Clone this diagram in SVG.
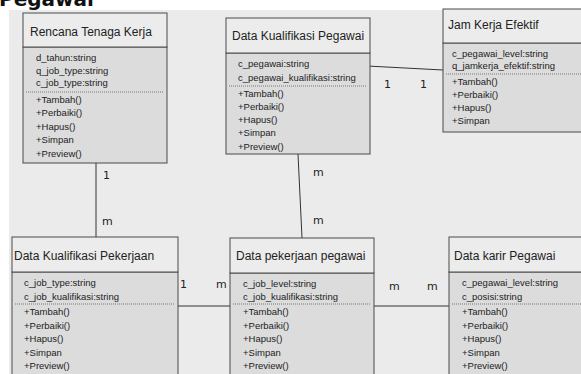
<svg xmlns="http://www.w3.org/2000/svg" width="581" height="374" viewBox="0 0 581 374">
<style>
.hd{fill:#ececec;stroke:#4a4a4a;stroke-width:1}
.bd{fill:#dcdcdc;stroke:#4a4a4a;stroke-width:1}
.sep{stroke:#777;stroke-width:1;stroke-dasharray:1,1}
.t{font-family:"Liberation Sans",Arial,sans-serif;fill:#222}
.h{font-size:12px}
.a{font-size:9.5px}
.c{stroke:#333;stroke-width:1;fill:none}
.lb{font-family:"DejaVu Sans",sans-serif;font-size:11px;fill:#222}
</style>
<rect x="0" y="0" width="581" height="374" fill="#ffffff"/>
<rect x="9" y="10" width="572" height="364" fill="#ebebeb"/>
<text x="-1" y="6" font-family="'DejaVu Sans',sans-serif" font-weight="bold" font-size="20" fill="#111">Pegawai</text>

<g id="connectors">
<line class="c" x1="96" y1="163" x2="96" y2="237"/>
<line class="c" x1="298" y1="154" x2="302" y2="238"/>
<line class="c" x1="367" y1="66" x2="443" y2="70"/>
<line class="c" x1="178" y1="306" x2="230" y2="306"/>
<line class="c" x1="374" y1="306" x2="449" y2="306"/>
<text class="lb" x="103" y="179">1</text>
<text class="lb" x="102" y="225">m</text>
<text class="lb" x="313" y="176">m</text>
<text class="lb" x="313" y="224">m</text>
<text class="lb" x="384" y="88">1</text>
<text class="lb" x="420" y="88">1</text>
<text class="lb" x="180" y="288">1</text>
<text class="lb" x="216" y="288">m</text>
<text class="lb" x="389" y="290">m</text>
<text class="lb" x="427" y="290">m</text>
</g>

<g id="rencana-tenaga-kerja">
<rect class="bd" x="23" y="47" width="144" height="116"/>
<rect class="hd" x="23" y="13" width="144" height="34"/>
<text class="t h" x="30" y="36">Rencana Tenaga Kerja</text>
<text class="t a" x="36" y="61">d_tahun:string</text>
<text class="t a" x="36" y="74">q_job_type:string</text>
<text class="t a" x="36" y="86">c_job_type:string</text>
<line class="sep" x1="26" y1="92" x2="164" y2="92"/>
<text class="t a" x="36" y="103">+Tambah()</text>
<text class="t a" x="36" y="116">+Perbaiki()</text>
<text class="t a" x="36" y="130">+Hapus()</text>
<text class="t a" x="36" y="143">+Simpan</text>
<text class="t a" x="36" y="157">+Preview()</text>
</g>

<g id="data-kualifikasi-pegawai">
<rect class="bd" x="226" y="53" width="144" height="101"/>
<rect class="hd" x="226" y="18" width="144" height="35"/>
<text class="t h" x="232" y="40">Data Kualifikasi Pegawai</text>
<text class="t a" x="238" y="67">c_pegawai:string</text>
<text class="t a" x="238" y="81">c_pegawai_kualifikasi:string</text>
<line class="sep" x1="229" y1="86" x2="367" y2="86"/>
<text class="t a" x="238" y="97">+Tambah()</text>
<text class="t a" x="238" y="110">+Perbaiki()</text>
<text class="t a" x="238" y="123">+Hapus()</text>
<text class="t a" x="238" y="136">+Simpan</text>
<text class="t a" x="238" y="150">+Preview()</text>
</g>

<g id="jam-kerja-efektif">
<rect class="bd" x="443" y="43" width="150" height="89"/>
<rect class="hd" x="443" y="9" width="150" height="34"/>
<text class="t h" x="448" y="29">Jam Kerja Efektif</text>
<text class="t a" x="452" y="57">c_pegawai_level:string</text>
<text class="t a" x="452" y="69">q_jamkerja_efektif:string</text>
<line class="sep" x1="446" y1="74" x2="581" y2="74"/>
<text class="t a" x="452" y="85">+Tambah()</text>
<text class="t a" x="452" y="98">+Perbaiki()</text>
<text class="t a" x="452" y="111">+Hapus()</text>
<text class="t a" x="452" y="124">+Simpan</text>
</g>

<g id="data-kualifikasi-pekerjaan">
<rect class="bd" x="12" y="272" width="166" height="110"/>
<rect class="hd" x="12" y="237" width="166" height="35"/>
<text class="t h" x="14" y="260">Data Kualifikasi Pekerjaan</text>
<text class="t a" x="24" y="286">c_job_type:string</text>
<text class="t a" x="24" y="300">c_job_kualifikasi:string</text>
<line class="sep" x1="15" y1="304" x2="175" y2="304"/>
<text class="t a" x="24" y="315">+Tambah()</text>
<text class="t a" x="24" y="329">+Perbaiki()</text>
<text class="t a" x="24" y="342">+Hapus()</text>
<text class="t a" x="24" y="356">+Simpan</text>
<text class="t a" x="24" y="369">+Preview()</text>
</g>

<g id="data-pekerjaan-pegawai">
<rect class="bd" x="230" y="273" width="144" height="110"/>
<rect class="hd" x="230" y="238" width="144" height="35"/>
<text class="t h" x="236" y="260">Data pekerjaan pegawai</text>
<text class="t a" x="243" y="287">c_job_level:string</text>
<text class="t a" x="243" y="300">c_job_kualifikasi:string</text>
<line class="sep" x1="233" y1="304" x2="371" y2="304"/>
<text class="t a" x="243" y="315">+Tambah()</text>
<text class="t a" x="243" y="329">+Perbaiki()</text>
<text class="t a" x="243" y="342">+Hapus()</text>
<text class="t a" x="243" y="356">+Simpan</text>
<text class="t a" x="243" y="369">+Preview()</text>
</g>

<g id="data-karir-pegawai">
<rect class="bd" x="449" y="272" width="150" height="110"/>
<rect class="hd" x="449" y="237" width="150" height="35"/>
<text class="t h" x="454" y="260">Data karir Pegawai</text>
<text class="t a" x="462" y="286">c_pegawai_level:string</text>
<text class="t a" x="462" y="300">c_posisi:string</text>
<line class="sep" x1="452" y1="304" x2="581" y2="304"/>
<text class="t a" x="462" y="315">+Tambah()</text>
<text class="t a" x="462" y="329">+Perbaiki()</text>
<text class="t a" x="462" y="342">+Hapus()</text>
<text class="t a" x="462" y="356">+Simpan</text>
<text class="t a" x="462" y="369">+Preview()</text>
</g>
</svg>
